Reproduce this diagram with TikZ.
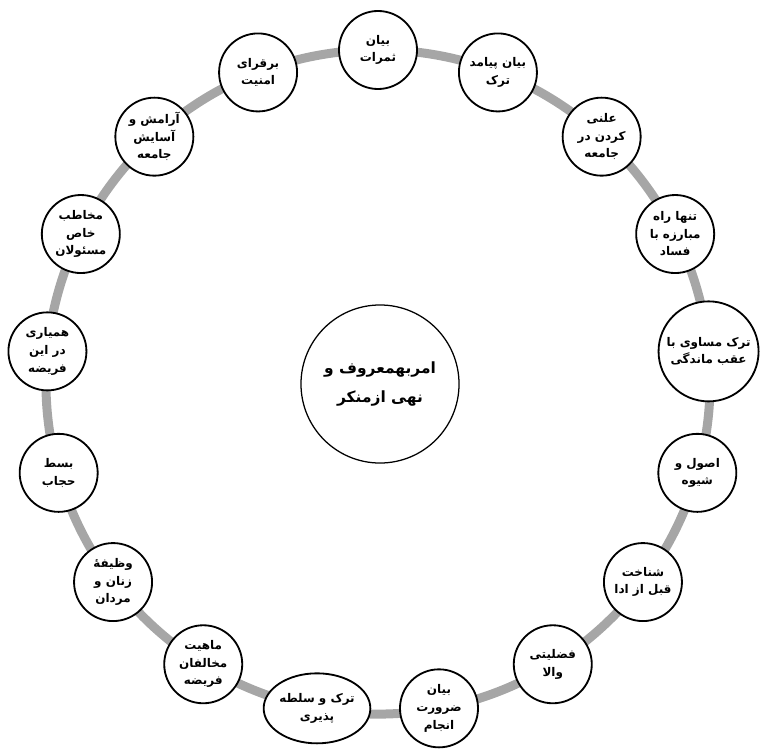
\documentclass[tikz,border=0pt]{standalone}
\usepackage{fontspec}
\usepackage{xcolor}
\usetikzlibrary{shapes.geometric}
\TeXXeTstate=1
\newfontfamily\arabicfont[Script=Arabic]{DejaVu Sans}
\newcommand{\fa}[1]{\beginR #1\endR}
\definecolor{ringgray}{RGB}{166,166,166}

\begin{document}
\begin{tikzpicture}[x=0.025cm,y=0.025cm,
    ring/.style={draw=ringgray,line width=6.4pt},
    leaf/.style={circle,draw=black,line width=1.3pt,fill=white,minimum size=1.95cm,
        inner sep=0pt,align=center,font=\arabicfont\bfseries\fontsize{8.5}{12.5}\selectfont},
    bigleaf/.style={leaf,minimum size=2.5cm},
    ovalleaf/.style={leaf,ellipse,minimum width=2.4cm,minimum height=1.75cm},
    hub/.style={circle,draw=black,line width=0.9pt,fill=white,minimum size=3.95cm,
        align=center,font=\arabicfont\bfseries\fontsize{11}{20}\selectfont}]
    \useasboundingbox (0,0) rectangle (761,-748);

    % gray ring
    \coordinate (ringc) at (378,-382);
    \draw[ring] (ringc) circle[radius=8.3cm];

    % centre
    \node[hub] (hub) at (380,-384) {\fa{امربهمعروف و}\\\fa{نهی ازمنکر}};

    % topics round the ring, clockwise from the top
    \begin{scope}[shift={(ringc)}]
    \node[leaf] (t0) at ({90-0*360/17}:332) {\fa{بیان}\\\fa{ثمرات}};
    \node[leaf] (t1) at ({90-1*360/17}:332) {\fa{بیان پیامد}\\\fa{ترک}};
    \node[leaf] (t2) at ({90-2*360/17}:332) {\fa{علنی}\\\fa{کردن در}\\\fa{جامعه}};
    \node[leaf] (t3) at ({90-3*360/17}:332) {\fa{تنها راه}\\\fa{مبارزه با}\\\fa{فساد}};
    \node[bigleaf] (t4) at ({90-4*360/17}:332) {\fa{ترک مساوی با}\\\fa{عقب ماندگی}};
    \node[leaf] (t5) at ({90-5*360/17}:332) {\fa{اصول و}\\\fa{شیوه}};
    \node[leaf] (t6) at ({90-6*360/17}:332) {\fa{شناخت}\\\fa{قبل از ادا}};
    \node[leaf] (t7) at ({90-7*360/17}:332) {\fa{فضلیتی}\\\fa{والا}};
    \node[leaf] (t8) at ({90-8*360/17}:332) {\fa{بیان}\\\fa{ضرورت}\\\fa{انجام}};
    \node[ovalleaf] (t9) at ({90-9*360/17}:332) {\fa{ترک و سلطه}\\\fa{پذیری}};
    \node[leaf] (t10) at ({90-10*360/17}:332) {\fa{ماهیت}\\\fa{مخالفان}\\\fa{فریضه}};
    \node[leaf] (t11) at ({90-11*360/17}:332) {\fa{وظیفهٔ}\\\fa{زنان و}\\\fa{مردان}};
    \node[leaf] (t12) at ({90-12*360/17}:332) {\fa{بسط}\\\fa{حجاب}};
    \node[leaf] (t13) at ({90-13*360/17}:332) {\fa{همیاری}\\\fa{در این}\\\fa{فریضه}};
    \node[leaf] (t14) at ({90-14*360/17}:332) {\fa{مخاطب}\\\fa{خاص}\\\fa{مسئولان}};
    \node[leaf] (t15) at ({90-15*360/17}:332) {\fa{آرامش و}\\\fa{آسایش}\\\fa{جامعه}};
    \node[leaf] (t16) at ({90-16*360/17}:332) {\fa{برقرای}\\\fa{امنیت}};
    \end{scope}
\end{tikzpicture}
\end{document}
